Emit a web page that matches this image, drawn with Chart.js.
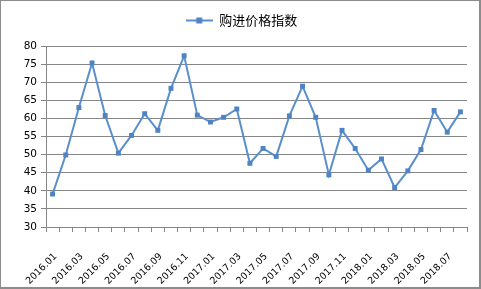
<!DOCTYPE html>
<html>
<head>
<meta charset="utf-8">
<script src="https://cdn.jsdelivr.net/npm/chart.js@4/dist/chart.umd.min.js"></script>
<style>
    body { margin: 0; background: #fff; }
    .box { width: 481px; height: 289px; position: relative; box-sizing: border-box; border: 1px solid #8c8c8c; border-right-width: 2px; border-bottom-width: 2px; }
    canvas { position: absolute; left: 0; top: 0; }
</style>
</head>
<body>
<div class="box"><canvas id="chart" width="481" height="289"></canvas></div>
<script>
const months = ['2016.01','2016.02','2016.03','2016.04','2016.05','2016.06','2016.07','2016.08','2016.09','2016.10','2016.11','2016.12',
    '2017.01','2017.02','2017.03','2017.04','2017.05','2017.06','2017.07','2017.08','2017.09','2017.10','2017.11','2017.12',
    '2018.01','2018.02','2018.03','2018.04','2018.05','2018.06','2018.07','2018.08']
const purchasePrice = [39.1, 49.9, 63.0, 75.3, 60.8, 50.4, 55.3, 61.3, 56.7, 68.3, 77.3, 60.9,
    59.0, 60.3, 62.6, 47.6, 51.7, 49.5, 60.7, 68.9, 60.3, 44.4, 56.7, 51.7,
    45.7, 48.8, 40.9, 45.5, 51.4, 62.2, 56.2, 61.8]
const yMin = 30
const yMax = 80
const yStep = 5

const lineColor = '#5a8fcc'
const markColor = '#4f84c4'

// legend symbol: short line with a square in the middle
const legendIcon = document.createElement('canvas')
legendIcon.width = 27
legendIcon.height = 7
const ic = legendIcon.getContext('2d')
ic.strokeStyle = lineColor
ic.lineWidth = 2
ic.beginPath(); ic.moveTo(0, 3.5); ic.lineTo(27, 3.5); ic.stroke()
ic.fillStyle = markColor
ic.fillRect(10.5, 0.5, 6, 6)

// empty layout boxes, used as gaps below the legend and right of the plot
function spacer(position, size) {
    return {
        position: position,
        weight: -10,
        fullSize: false,
        options: {},
        isHorizontal() { return position == 'top' || position == 'bottom' },
        update(maxWidth, maxHeight) {
            if (this.isHorizontal()) { this.width = maxWidth; this.height = size }
            else { this.width = size; this.height = maxHeight }
        },
        draw() {}
    }
}

const spacers = {
    id: 'spacers',
    beforeInit(chart) {
        Chart.layouts.addBox(chart, spacer('top', 9))
        Chart.layouts.addBox(chart, spacer('right', 15))
    }
}

const ctx = document.getElementById('chart')

new Chart(ctx, {
    type: 'line',
    data: {
        labels: months,
        datasets: [{
            label: '购进价格指数',
            data: purchasePrice,
            borderColor: lineColor,
            backgroundColor: markColor,
            borderWidth: 2,
            pointStyle: 'rect',
            pointRadius: 3.5,
            pointBorderWidth: 0,
            pointBackgroundColor: markColor,
            tension: 0,
            fill: false
        }]
    },
    plugins: [spacers],
    options: {
        responsive: false,
        animation: false,
        layout: { padding: { left: 0, right: 0, top: 5, bottom: 0 } },
        plugins: {
            legend: {
                display: true,
                labels: {
                    usePointStyle: true,
                    pointStyle: legendIcon,
                    pointStyleWidth: 27,
                    color: '#000',
                    font: { family: '"Noto Sans CJK SC", sans-serif', size: 13 },
                    padding: 8,
                    generateLabels: (chart) => [{
                        text: '购进价格指数',
                        pointStyle: legendIcon,
                        fillStyle: markColor,
                        strokeStyle: lineColor,
                        lineWidth: 0,
                        datasetIndex: 0
                    }]
                }
            },
            tooltip: { enabled: false }
        },
        scales: {
            x: {
                offset: true,
                afterFit: (scale) => {
                    scale.height = 63
                    scale.paddingLeft = 0
                    scale.paddingRight = 0
                },
                grid: {
                    offset: true,
                    drawOnChartArea: false,
                    drawTicks: true,
                    tickLength: 5,
                    color: '#868686'
                },
                border: { color: '#868686', width: 1 },
                ticks: {
                    autoSkip: false,
                    maxRotation: 45,
                    minRotation: 45,
                    color: '#000',
                    padding: 19,
                    labelOffset: 3,
                    font: { family: '"DejaVu Sans", sans-serif', size: 9.5 },
                    callback: function (value, index) {
                        return index % 2 == 0 ? this.getLabelForValue(value) : ''
                    }
                }
            },
            y: {
                min: yMin,
                max: yMax,
                afterFit: (scale) => { scale.width = 45 },
                grid: {
                    color: '#868686',
                    drawTicks: true,
                    tickLength: 5
                },
                border: { color: '#868686', width: 1 },
                ticks: {
                    stepSize: yStep,
                    color: '#000',
                    padding: 4,
                    font: { family: '"DejaVu Sans", sans-serif', size: 10.5 }
                }
            }
        }
    }
})
</script>
</body>
</html>
